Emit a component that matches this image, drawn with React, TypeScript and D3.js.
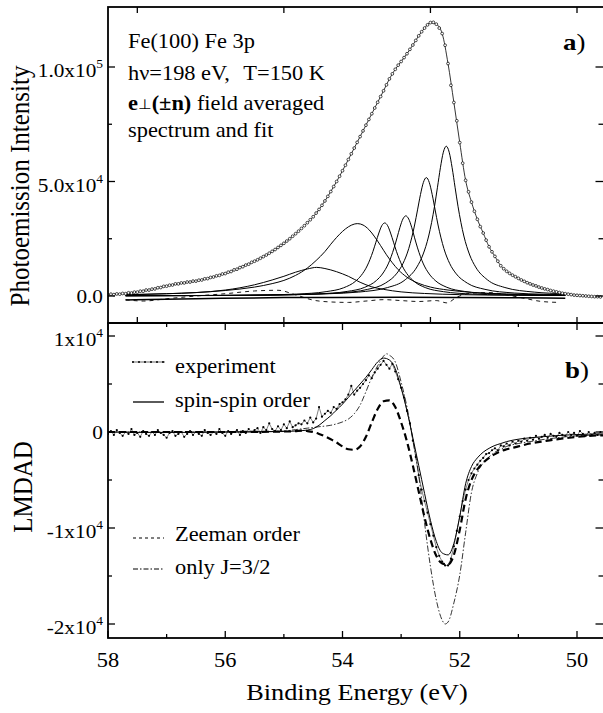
import * as d3 from 'd3'
import React from 'react'

// intensities are in units of 1e3 counts

// panel a: measured spectrum, 0.05 eV steps from 58.0 eV
const specStart = 58.0
const specStep = 0.05
const spectrum = [
  0.5, 0.8, 0.6, 0.9, 0.8, 1.1, 1.0, 1.4, 1.3, 1.7,
  1.7, 2.1, 2.1, 2.6, 2.6, 3.0, 3.1, 3.6, 3.7, 4.2,
  4.3, 4.7, 4.8, 5.3, 5.3, 5.7, 5.7, 6.1, 6.1, 6.5,
  6.5, 6.9, 7.0, 7.5, 7.6, 8.1, 8.3, 8.8, 9.0, 9.6,
  9.8, 10.4, 10.7, 11.4, 11.7, 12.4, 12.8, 13.5, 13.9, 14.7,
  15.2, 15.8, 16.5, 17.2, 17.9, 18.7, 19.5, 20.3, 21.2, 22.1,
  23.0, 24.0, 25.0, 26.1, 27.2, 28.3, 29.5, 30.7, 32.0, 33.3,
  34.6, 36.2, 37.8, 39.6, 41.5, 43.5, 45.6, 47.8, 50.0, 52.3,
  54.7, 57.1, 59.6, 62.1, 64.6, 67.1, 69.6, 72.1, 74.6, 77.1,
  79.6, 82.1, 84.6, 87.1, 89.6, 92.2, 94.8, 97.0, 99.0, 100.8,
  102.4, 104.1, 105.8, 107.7, 109.6, 111.6, 113.6, 115.4, 117.0, 118.4,
  119.4, 119.5, 118.7, 117.0, 114.6, 109.5, 101.5, 92.0, 84.5, 76.5,
  67.0, 58.0, 50.5, 45.5, 41.0, 37.0, 33.5, 30.3, 27.5, 24.4,
  21.5, 19.3, 17.3, 15.2, 13.2, 11.9, 10.8, 9.9, 9.1, 8.4,
  7.7, 7.0, 6.4, 5.8, 5.3, 4.8, 4.4, 3.9, 3.5, 3.1,
  2.8, 2.4, 2.1, 1.8, 1.5, 1.2, 1.0, 0.8, 0.6, 0.4,
  0.3, 0.2, 0.1, 0.0, -0.1, -0.2, -0.3, -0.3, -0.4
]

// panel a: fit, 0.1 eV steps from 58.0 eV
const fitStep = 0.1
const fit = [
  0.5, 0.7, 0.9, 1.1, 1.4, 1.8, 2.2, 2.7, 3.2, 3.8,
  4.4, 4.9, 5.4, 5.8, 6.2, 6.6, 7.1, 7.7, 8.4, 9.1,
  9.9, 10.8, 11.8, 12.9, 14.0, 15.2, 16.5, 17.9, 19.5, 21.2,
  23.0, 25.0, 27.2, 29.5, 32.0, 34.6, 37.8, 41.5, 45.6, 50.0,
  54.7, 59.6, 64.6, 69.6, 74.6, 79.6, 84.6, 89.6, 94.8, 99.0,
  102.4, 105.8, 109.6, 113.6, 117.0, 119.4, 118.7, 114.6, 101.5, 84.5,
  67.0, 50.5, 41.0, 33.5, 27.5, 21.5, 17.3, 13.2, 10.8, 9.1,
  7.7, 6.4, 5.3, 4.4, 3.5, 2.8, 2.1, 1.5, 1.0, 0.6,
  0.3, 0.1, -0.1, -0.3, -0.4
]

// panel a: fit components [binding energy, intensity]
const comp1 = [
  [57.7, 0.5], [57.0, 1.0], [56.5, 1.5], [56.0, 2.6], [55.5, 4.9], [55.2, 7.0],
  [55.0, 8.6], [54.8, 10.4], [54.6, 11.8], [54.44, 12.5], [54.3, 12.0], [54.1, 10.6],
  [53.9, 8.6], [53.7, 6.0], [53.5, 4.0], [53.3, 2.9], [53.0, 1.8], [52.6, 1.1],
  [52.0, 0.6], [51.0, 0.3], [50.2, 0.2]
]
const comp2 = [
  [57.7, 0.6], [57.0, 1.0], [56.5, 1.5], [56.0, 2.4], [55.5, 3.9], [55.2, 5.4],
  [55.0, 6.8], [54.8, 9.0], [54.6, 12.2], [54.45, 15.5], [54.3, 19.4], [54.2, 22.6],
  [54.1, 25.6], [54.0, 28.2], [53.9, 30.2], [53.8, 31.4], [53.74, 31.6], [53.65, 31.0],
  [53.55, 29.0], [53.45, 25.8], [53.35, 22.0], [53.25, 18.0], [53.15, 14.5], [53.05, 11.5],
  [52.9, 8.2], [52.7, 5.5], [52.5, 3.9], [52.2, 2.6], [51.8, 1.6], [51.2, 0.9], [50.2, 0.4]
]
const comp3 = [
  [57.7, 0.1], [57.28, 0.12], [56.28, 0.22], [55.28, 0.49], [54.78, 0.85], [54.28, 1.9],
  [53.98, 3.6], [53.78, 6.4], [53.68, 9.0], [53.58, 13.1], [53.48, 19.5], [53.43, 23.5],
  [53.38, 27.5], [53.33, 30.7], [53.28, 31.9], [53.23, 30.7], [53.18, 27.5], [53.13, 23.5],
  [53.08, 19.5], [52.98, 13.1], [52.88, 9.0], [52.78, 6.4], [52.58, 3.6], [52.28, 1.9],
  [51.78, 0.85], [51.28, 0.49], [50.2, 0.21]
]
const comp4 = [
  [57.7, 0.09], [56.92, 0.13], [55.92, 0.23], [54.92, 0.52], [54.42, 0.91], [53.92, 2.0],
  [53.62, 3.8], [53.42, 6.8], [53.32, 9.6], [53.22, 14.0], [53.12, 21.0], [53.07, 25.4],
  [53.02, 30.0], [52.97, 33.6], [52.92, 35.0], [52.87, 33.6], [52.82, 30.0], [52.77, 25.4],
  [52.72, 21.0], [52.62, 14.0], [52.52, 9.6], [52.42, 6.8], [52.22, 3.8], [51.92, 2.0],
  [51.42, 0.91], [50.92, 0.52], [50.2, 0.28]
]
const comp5 = [
  [57.7, 0.12], [56.57, 0.19], [55.57, 0.34], [54.57, 0.77], [54.07, 1.3], [53.57, 2.9],
  [53.27, 5.6], [53.07, 10.0], [52.97, 14.1], [52.87, 20.7], [52.77, 31.0], [52.72, 37.6],
  [52.67, 44.3], [52.62, 49.6], [52.57, 51.7], [52.52, 49.6], [52.47, 44.3], [52.42, 37.6],
  [52.37, 31.0], [52.27, 20.7], [52.17, 14.1], [52.07, 10.0], [51.87, 5.6], [51.57, 2.9],
  [51.07, 1.3], [50.57, 0.77], [50.2, 0.55]
]
const comp6 = [
  [57.7, 0.13], [56.23, 0.24], [55.23, 0.43], [54.23, 1.0], [53.73, 1.7], [53.23, 3.7],
  [52.93, 7.1], [52.73, 12.7], [52.63, 17.9], [52.53, 26.2], [52.43, 39.2], [52.38, 47.5],
  [52.33, 56.0], [52.28, 62.8], [52.23, 65.4], [52.18, 62.8], [52.13, 56.0], [52.08, 47.5],
  [52.03, 39.2], [51.93, 26.2], [51.83, 17.9], [51.73, 12.7], [51.53, 7.1], [51.23, 3.7],
  [50.73, 1.7], [50.2, 1.0]
]
const components = [comp1, comp2, comp3, comp4, comp5, comp6]

const background = [
  [57.7, -1.7], [56.5, -1.2], [55.0, -0.7], [53.0, -0.6], [51.0, -0.8], [50.2, -1.0]
]
const residual = [
  [57.7, -1.6], [57.4, -2.2], [57.0, -1.2], [56.5, 0.0], [56.0, 1.0], [55.5, 2.2],
  [55.1, 2.5], [54.8, 0.5], [54.5, -1.8], [54.2, -2.6], [53.9, -2.8], [53.6, -2.2],
  [53.3, -1.6], [53.0, -2.0], [52.7, -2.4], [52.4, -2.0], [52.22, -3.0], [52.05, -0.5],
  [51.8, 1.2], [51.5, 1.5], [51.2, 0.5], [50.9, -1.0], [50.6, -2.4], [50.3, -2.8]
]

// panel b: measured LMDAD, 0.05 eV steps from 58.0 eV
const lmdad = [
  -0.2, 0.1, -0.3, 0.2, -0.1, -0.4, 0.0, -0.2, 0.3, -0.3,
  -0.1, -0.5, 0.1, -0.2, -0.4, 0.0, -0.3, 0.2, -0.1, -0.3,
  -0.6, -0.1, 0.1, -0.4, -0.2, 0.0, -0.5, -0.2, 0.1, -0.3,
  0.0, -0.2, -0.4, 0.2, -0.1, -0.3, 0.0, -0.2, 0.3, -0.1,
  -0.4, 0.1, -0.2, 0.0, 0.2, -0.3, 0.1, -0.1, 0.3, 0.0,
  0.2, 0.4, -0.1, 0.5, 0.2, 0.9, 0.3, 0.1, 0.6, 0.2,
  0.8, 0.4, 1.1, 0.5, 0.7, 0.9, 0.8, 1.2, 0.9, 1.5,
  1.0, 1.4, 2.6, 1.6, 1.9, 2.2, 2.0, 2.6, 2.4, 2.9,
  3.1, 3.4, 3.9, 4.8, 3.9, 4.3, 4.6, 5.0, 5.4, 5.9,
  5.6, 6.2, 6.6, 7.0, 7.4, 7.0, 6.6, 7.1, 6.3, 5.5,
  4.6, 3.6, 2.2, 0.9, -0.9, -2.6, -4.5, -6.0, -7.2, -8.4,
  -9.6, -10.8, -12.0, -12.9, -13.5, -13.9, -13.9, -13.2, -11.9, -10.3,
  -8.8, -7.2, -6.0, -5.0, -4.3, -3.8, -3.4, -3.0, -2.7, -2.3,
  -2.2, -1.9, -1.7, -1.9, -1.4, -1.5, -1.2, -1.4, -1.0, -1.2,
  -0.9, -1.0, -0.7, -0.9, -0.6, -0.8, -0.4, -0.7, -0.5, -0.3,
  -0.6, -0.2, -0.4, -0.5, -0.1, -0.3, -0.4, 0.0, -0.3, -0.1,
  -0.4, 0.1, -0.2, -0.4, 0.0, -0.3, -0.1, -0.3, 0.0
]

const spinSpin = [
  [58, 0], [57, -0.05], [56, 0], [55.5, 0.02], [55, 0.05], [54.8, 0.1], [54.6, 0.2],
  [54.5, 0.35], [54.4, 0.7], [54.3, 1.2], [54.2, 1.7], [54.1, 2.3], [54.0, 2.9],
  [53.9, 3.6], [53.8, 4.3], [53.7, 5.0], [53.6, 5.7], [53.5, 6.5], [53.4, 7.3],
  [53.3, 7.7], [53.2, 7.5], [53.1, 6.6], [53.0, 4.6], [52.9, 2.2], [52.8, -0.6],
  [52.7, -3.5], [52.6, -6.4], [52.5, -9.2], [52.4, -11.4], [52.3, -12.6], [52.2, -12.8],
  [52.1, -11.6], [52.0, -8.8], [51.9, -5.4], [51.8, -3.6], [51.7, -2.7], [51.6, -2.1],
  [51.5, -1.7], [51.4, -1.4], [51.3, -1.2], [51.2, -1.0], [51.0, -0.75], [50.8, -0.6],
  [50.6, -0.5], [50.4, -0.4], [50.2, -0.32], [50.0, -0.27], [49.8, -0.22], [49.55, -0.2]
]
const zeeman = [
  [58, 0], [56, 0], [55, 0.05], [54.8, 0.1], [54.7, 0.15], [54.6, 0.1], [54.5, 0.0],
  [54.4, -0.2], [54.3, -0.45], [54.2, -0.75], [54.1, -1.1], [54.0, -1.5], [53.9, -1.8],
  [53.8, -1.85], [53.7, -1.5], [53.6, -0.5], [53.5, 1.0], [53.4, 2.4], [53.3, 3.2],
  [53.2, 3.3], [53.1, 2.6], [53.0, 1.0], [52.9, -1.0], [52.8, -3.5], [52.7, -6.2],
  [52.6, -8.9], [52.5, -11.2], [52.4, -12.9], [52.3, -13.7], [52.2, -13.8], [52.1, -12.8],
  [52.0, -10.2], [51.9, -7.0], [51.8, -5.0], [51.7, -3.9], [51.6, -3.2], [51.5, -2.7],
  [51.4, -2.3], [51.3, -2.0], [51.2, -1.8], [51.0, -1.5], [50.8, -1.2], [50.6, -1.0],
  [50.4, -0.8], [50.2, -0.65], [50.0, -0.5], [49.8, -0.4], [49.55, -0.35]
]
const onlyJ32 = [
  [58, 0], [56, 0], [55.5, 0.02], [55, 0.1], [54.8, 0.25], [54.6, 0.4], [54.4, 0.55],
  [54.2, 0.7], [54.1, 0.85], [54.0, 1.05], [53.9, 1.35], [53.8, 1.9], [53.7, 2.8],
  [53.6, 4.2], [53.5, 5.7], [53.4, 6.9], [53.3, 7.9], [53.25, 8.15], [53.2, 8.0],
  [53.1, 7.3], [53.0, 5.2], [52.9, 2.6], [52.8, -0.8], [52.7, -4.5], [52.6, -9.5],
  [52.5, -14.0], [52.4, -17.5], [52.3, -19.6], [52.25, -20.0], [52.2, -19.8], [52.1, -17.8],
  [52.0, -14.9], [51.9, -10.5], [51.8, -6.3], [51.7, -4.3], [51.6, -3.2], [51.5, -2.6],
  [51.4, -2.1], [51.3, -1.8], [51.2, -1.5], [51.0, -1.2], [50.8, -1.0], [50.6, -0.8],
  [50.4, -0.65], [50.2, -0.5], [50.0, -0.4], [49.8, -0.35], [49.55, -0.3]
]

// axes
const xTicksA = [57.5, 55, 52.5, 50]
const xTicksB = [58, 57, 56, 55, 54, 53, 52, 51, 50]
const xLabels = ['58', '56', '54', '52', '50']
const yTicksA = [0, 25, 50, 75, 100]
const yLabelsA = [
  { v: 0, base: '0.0', exp: '' },
  { v: 50, base: '5.0x10', exp: '4' },
  { v: 100, base: '1.0x10', exp: '5' }
]
const yTicksB = [10, 5, 0, -5, -10, -15, -20]
const yLabelsB = [
  { v: 10, base: '1x10', exp: '4' },
  { v: 0, base: '0', exp: '' },
  { v: -10, base: '-1x10', exp: '4' },
  { v: -20, base: '-2x10', exp: '4' }
]
const legendB = ['experiment', 'spin-spin order', 'Zeeman order', 'only J=3/2']

const FONT = "'Liberation Serif', 'Times New Roman', serif"
const SX = 1.12

const Txt = ({ x, y, size = 20, anchor = 'start', weight = 'normal', rot = false, children }: any) => (
  <text
    transform={`translate(${x},${y}) scale(${SX},1)${rot ? ' rotate(-90)' : ''}`}
    fontSize={size}
    fontWeight={weight}
    textAnchor={anchor}
    fontFamily={FONT}
    style={{ whiteSpace: 'pre' }}
  >
    {children}
  </text>
)

export default function App() {
  const left = 108
  const right = 604.5
  const topA = 7
  const mid = 323
  const botB = 638

  const x = d3.scaleLinear().domain([58, 50]).range([108, 577])
  const yA = d3.scaleLinear().domain([0, 100]).range([296, 67])
  const yB = d3.scaleLinear().domain([0, 10]).range([432, 336])

  const lineA = d3.line<number[]>().x(d => x(d[0])).y(d => yA(d[1])).curve(d3.curveMonotoneX)
  const lineB = d3.line<number[]>().x(d => x(d[0])).y(d => yB(d[1])).curve(d3.curveMonotoneX)

  const specPts = spectrum.map((v, i) => [specStart - i * specStep, v])
  const fitPts = fit.map((v, i) => [specStart - i * fitStep, v])
  const expPts = lmdad.map((v, i) => [specStart - i * specStep, v])

  const frame = 1.8
  const tickR = 602.5

  return (
    <svg width={603} height={713} style={{ position: 'absolute', left: 0, top: 0, background: '#fff' }}>
      <defs>
        <clipPath id="clipA">
          <rect x={left} y={topA} width={right - left} height={mid - topA} />
        </clipPath>
        <clipPath id="clipB">
          <rect x={left} y={mid} width={right - left} height={botB - mid} />
        </clipPath>
      </defs>
      <rect width={603} height={713} fill="#fff" />

      {/* panel a curves */}
      <g clipPath="url(#clipA)" fill="none" stroke="#000">
        <path d={lineA(background) || ''} strokeWidth={1.5} />
        <path d={lineA(residual) || ''} strokeWidth={0.9} strokeDasharray="4 4" />
        {components.map((c, i) => (
          <path key={i} d={lineA(c) || ''} strokeWidth={1} />
        ))}
        <path d={lineA(fitPts) || ''} strokeWidth={0.8} />
        {specPts.map((d, i) => (
          <circle key={i} cx={x(d[0])} cy={yA(d[1])} r={1.4} fill="#fff" strokeWidth={0.7} />
        ))}
      </g>

      {/* panel b curves */}
      <g clipPath="url(#clipB)" fill="none" stroke="#000">
        <path d={lineB(onlyJ32) || ''} strokeWidth={0.8} strokeDasharray="6 2 1.5 2" />
        <path d={lineB(zeeman) || ''} strokeWidth={2.2} strokeDasharray="7 4" />
        <path d={lineB(spinSpin) || ''} strokeWidth={1} />
        <path d={d3.line<number[]>().x(d => x(d[0])).y(d => yB(d[1]))(expPts) || ''} strokeWidth={0.5} />
        {expPts.map((d, i) => (
          <circle key={i} cx={x(d[0])} cy={yB(d[1])} r={1.1} fill="#000" stroke="none" />
        ))}
      </g>

      {/* frames */}
      <rect x={left} y={topA} width={right - left} height={mid - topA} fill="none" stroke="#000" strokeWidth={frame} />
      <rect x={left} y={mid} width={right - left} height={botB - mid} fill="none" stroke="#000" strokeWidth={frame} />

      {/* ticks */}
      <g stroke="#000" strokeWidth={1.3}>
        {xTicksA.map(v => (
          <g key={'a' + v}>
            <line x1={x(v)} x2={x(v)} y1={topA} y2={topA + 6} />
            <line x1={x(v)} x2={x(v)} y1={mid} y2={mid - 6} />
          </g>
        ))}
        {xTicksB.map(v => {
          const len = v % 2 === 0 ? 7 : 4
          return (
            <g key={'b' + v}>
              <line x1={x(v)} x2={x(v)} y1={mid} y2={mid + len} />
              <line x1={x(v)} x2={x(v)} y1={botB} y2={botB - len} />
            </g>
          )
        })}
        {yTicksA.map(v => {
          const len = v % 50 === 0 ? 7 : 4
          return (
            <g key={'ya' + v}>
              <line x1={left} x2={left + len} y1={yA(v)} y2={yA(v)} />
              <line x1={tickR + 1} x2={tickR - len} y1={yA(v)} y2={yA(v)} />
            </g>
          )
        })}
        {yTicksB.map(v => {
          const len = v % 10 === 0 ? 7 : 4
          return (
            <g key={'yb' + v}>
              <line x1={left} x2={left + len} y1={yB(v)} y2={yB(v)} />
              <line x1={tickR + 1} x2={tickR - len} y1={yB(v)} y2={yB(v)} />
            </g>
          )
        })}
      </g>

      {/* tick labels */}
      {xLabels.map(s => (
        <Txt key={s} x={x(+s)} y={667} size={20} anchor="middle">{s}</Txt>
      ))}
      {yLabelsA.map(l => (
        <Txt key={l.base + l.exp} x={103} y={yA(l.v) + (l.exp ? 10 : 7)} size={19} anchor="end">
          {l.base}
          {l.exp && <tspan dy={-9} fontSize={12}>{l.exp}</tspan>}
        </Txt>
      ))}
      {yLabelsB.map(l => (
        <Txt key={l.base + l.exp} x={103} y={yB(l.v) + (l.exp ? 10 : 7)} size={19} anchor="end">
          {l.base}
          {l.exp && <tspan dy={-9} fontSize={12}>{l.exp}</tspan>}
        </Txt>
      ))}

      {/* axis titles */}
      <Txt x={357} y={700} size={23.5} anchor="middle">Binding Energy (eV)</Txt>
      <Txt x={29} y={186} size={25} anchor="middle" rot>Photoemission Intensity</Txt>
      <Txt x={32} y={487} size={25} anchor="middle" rot>LMDAD</Txt>

      {/* panel a annotation */}
      <Txt x={128} y={48} size={20}>Fe(100) Fe 3p</Txt>
      <Txt x={128} y={80} size={20}>
        hν=198 eV,<tspan dx={12}>T=150 K</tspan>
      </Txt>
      <Txt x={128} y={110} size={20}>
        <tspan fontWeight="bold">e</tspan>
        <tspan fontSize={14} dy={-1}>⊥</tspan>
        <tspan fontWeight="bold" dy={1}>(±n)</tspan>
        <tspan> field averaged</tspan>
      </Txt>
      <Txt x={128} y={137} size={20}>spectrum and fit</Txt>
      <Txt x={563} y={50} size={24}>
        <tspan fontWeight="bold">a</tspan>)
      </Txt>

      {/* panel b legend */}
      <g stroke="#000" fill="none">
        <line x1={132} x2={165} y1={362} y2={362} strokeWidth={0.6} />
        {[133, 139, 145, 151, 157, 163].map(px => (
          <circle key={px} cx={px} cy={362} r={1} fill="#000" stroke="none" />
        ))}
        <line x1={133} x2={164} y1={402} y2={402} strokeWidth={1.3} />
        <line x1={133} x2={164} y1={538} y2={538} strokeWidth={1} strokeDasharray="3 3" />
        <line x1={133} x2={164} y1={569} y2={569} strokeWidth={1} strokeDasharray="5 2 1.5 2" />
      </g>
      {legendB.map((s, i) => (
        <Txt key={s} x={175} y={[373, 407, 541, 574][i]} size={20}>{s}</Txt>
      ))}
      <Txt x={565} y={378} size={24}>
        <tspan fontWeight="bold">b</tspan>)
      </Txt>
    </svg>
  )
}
